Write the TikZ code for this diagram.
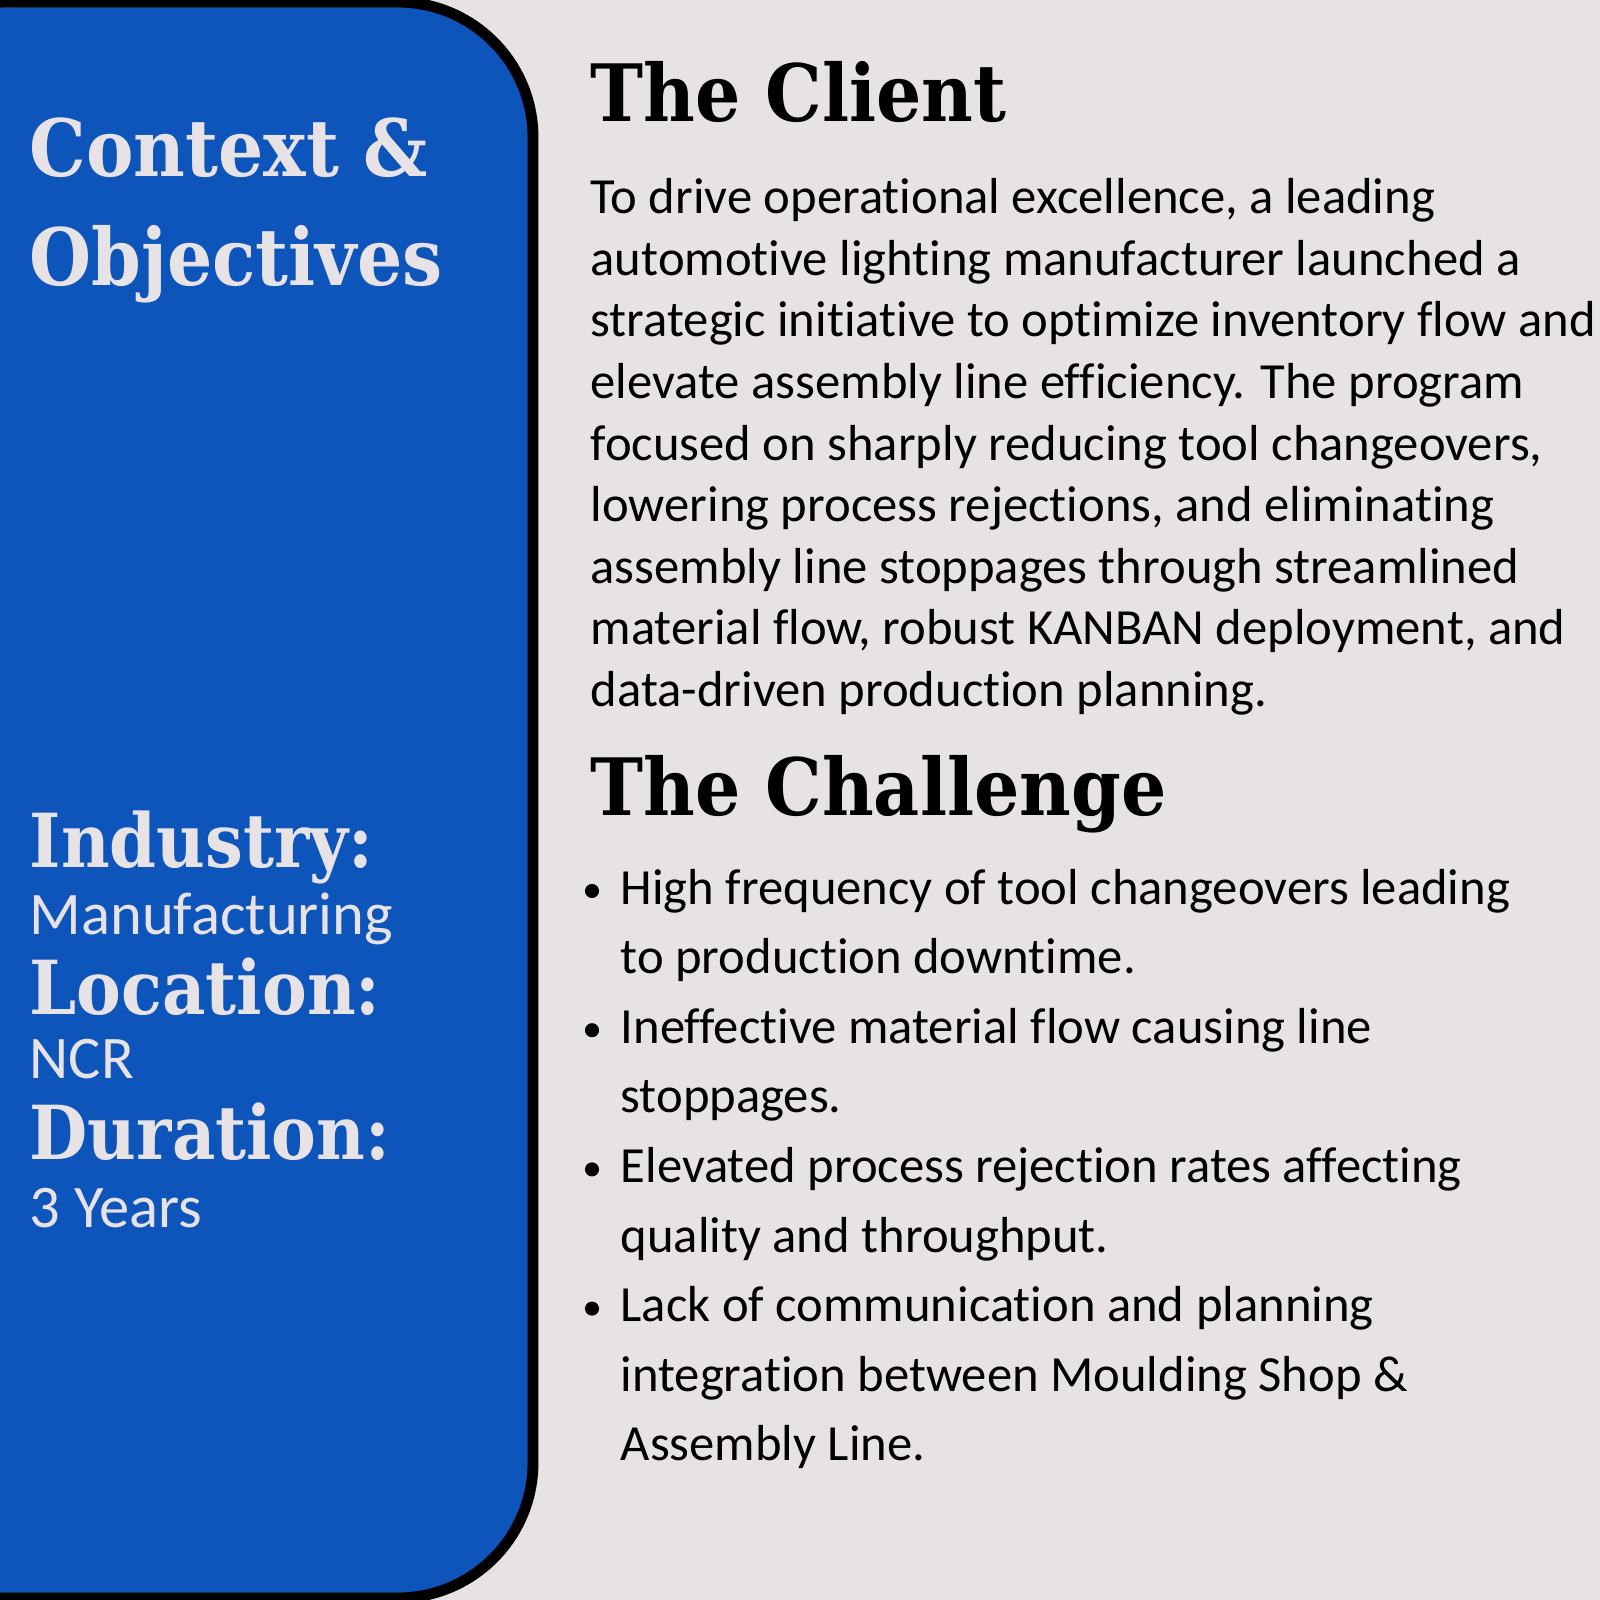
\documentclass[tikz,border=0pt]{standalone}
\usepackage{fontspec}
\setmainfont{Carlito}[Ligatures={NoCommon}]
\newfontfamily\headserif{DejaVu Serif}[FakeStretch=0.9]
\usetikzlibrary{calc}
\definecolor{panelblue}{HTML}{0D55BA}
\definecolor{paper}{HTML}{E7E2E5}
\newcommand\bodysize{\fontsize{14.4pt}{17pt}\selectfont}
\newcommand\sidesize{\fontsize{17.2pt}{20pt}\selectfont}
\newcommand\headsize{\fontsize{22.5pt}{27pt}\selectfont}
\newcommand\labelsize{\fontsize{21.2pt}{25pt}\selectfont}
\tikzset{
body/.style={anchor=base west,inner sep=0pt,font=\bodysize,text=black},
head/.style={anchor=base west,inner sep=0pt,font=\headserif\bfseries\headsize,text=black},
side head/.style={head,text=paper},
side label/.style={head,font=\headserif\bfseries\labelsize,text=paper},
side text/.style={anchor=base west,inner sep=0pt,font=\sidesize,text=paper},
punto/.style={fill=black}}

\begin{document}
\begin{tikzpicture}[x=0.01cm,y=-0.01cm]

\useasboundingbox (0,0) rectangle (1600,1600);
\fill[paper] (0,0) rectangle (1600,1600);
\begin{scope}
\clip (0,0) rectangle (1600,1600);
\draw[line width=3.1pt,fill=panelblue,rounded corners=38.5pt] (-130,2) rectangle (533,1598);
\end{scope}

% left panel
\node[side head] (context) at (29,177) {Context \&};
\node[side head] (objectives) at (29,285) {Objectives};
\node[side label] (industry) at (29,867) {Industry:};
\node[side text] (manuf) at (29,934) {Manufacturing};
\node[side label] (location) at (29,1014) {Location:};
\node[side text] (ncr) at (29,1078) {NCR};
\node[side label] (duration) at (29,1159) {Duration:};
\node[side text] (years) at (29,1227) {3 Years};

% the client
\node[head] (client) at (590,122) {The Client};
\foreach \riga [count=\i] in {%
{To drive operational excellence, a leading},
{automotive lighting manufacturer launched a},
{strategic initiative to optimize inventory flow and},
{elevate assembly line efficiency. The program},
{focused on sharply reducing tool changeovers,},
{lowering process rejections, and eliminating},
{assembly line stoppages through streamlined},
{material flow, robust KANBAN deployment, and},
{data-driven production planning.}}
\node[body] (cl\i) at (590,{214+61.5*(\i-1)}) {\riga};

% the challenge
\node[head] (challenge) at (590,815) {The Challenge};
\foreach \riga [count=\i] in {%
{High frequency of tool changeovers leading},
{to production downtime.},
{Ineffective material flow causing line},
{stoppages.},
{Elevated process rejection rates affecting},
{quality and throughput.},
{Lack of communication and planning},
{integration between Moulding Shop \&},
{Assembly Line.}}
\node[body] (ch\i) at (620,{904+69.6*(\i-1)}) {\riga};

\foreach \i in {1,3,5,7}
\fill[punto] ($(ch\i.base west)+(-28,-13)$) circle[radius=2pt];

\end{tikzpicture}
\end{document}
